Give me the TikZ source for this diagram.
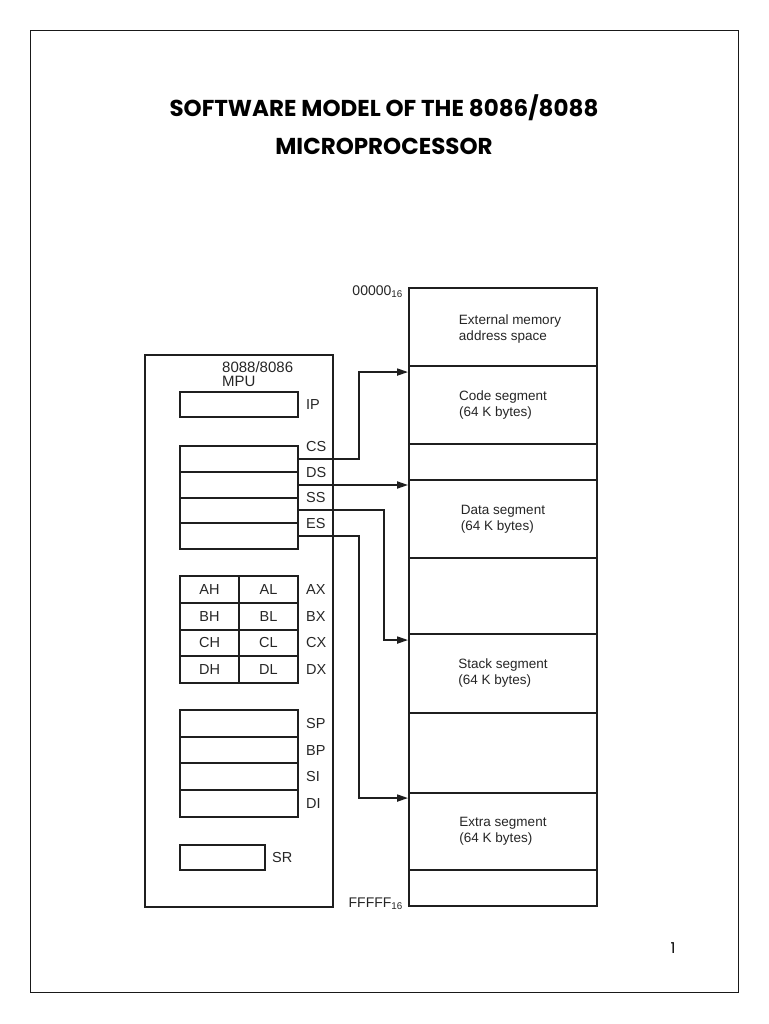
\documentclass[tikz,border=0pt]{standalone}
\usepackage{fontspec}
\setmainfont{Liberation Sans}
\newfontfamily\titlefont{Poppins}
\usetikzlibrary{arrows.meta,calc}
\begin{document}
\begin{tikzpicture}[x=1pt,y=-1pt,
  ink/.style={draw=black!88, line width=1.9pt},
  reg/.style={ink, rectangle, inner sep=0pt, minimum width=118pt},
  seg/.style={ink, rectangle, inner sep=0pt, minimum width=188pt, align=left,
    font=\fontsize{13.5}{16}\selectfont, text=black!85},
  txt/.style={inner sep=0pt, align=left, font=\fontsize{13.5}{16}\selectfont, text=black!85},
  lbl/.style={anchor=west, inner sep=0pt, font=\fontsize{14.5}{16}\selectfont, text=black!85},
  cell/.style={anchor=center, inner sep=0pt, font=\fontsize{14.5}{16}\selectfont, text=black!85},
  arr/.style={draw=black!88, line width=1.8pt, -{Triangle[length=11pt,width=7pt]}},
]
\useasboundingbox (0,0) rectangle (768,1024);
\fill[white] (0,0) rectangle (768,1024);
\draw[line width=1.1pt, black!90] (30.5,30.5) rectangle (738.5,992.5);

% title
\node[font=\titlefont\bfseries\fontsize{23}{27}\selectfont] (t1) at (384,108) {SOFTWARE MODEL OF THE 8086/8088};
\node[font=\titlefont\bfseries\fontsize{23}{27}\selectfont] (t2) at (384,146) {MICROPROCESSOR};

% MPU
\node[ink, rectangle, inner sep=0pt, minimum width=188pt, minimum height=552pt] (mpu) at (239,631) {};
\node[anchor=north west, inner sep=0pt, align=left, font=\fontsize{15}{14}\selectfont, text=black!85] (mpulbl) at (222,361) {8088/8086\\MPU};

\node[reg, minimum height=25pt] (ip) at (239,404.5) {};
\node[lbl] (iplbl) at (306,405) {IP};

\node[reg, minimum height=26pt] (cs) at (239,459) {};
\node[reg, minimum height=26pt] (ds) at (239,485) {};
\node[reg, minimum height=25pt] (ss) at (239,510.5) {};
\node[reg, minimum height=26pt] (es) at (239,536) {};
\node[lbl] (cslbl) at (306,447) {CS};
\node[lbl] (dslbl) at (306,473) {DS};
\node[lbl] (sslbl) at (306,498) {SS};
\node[lbl] (eslbl) at (306,524) {ES};

% general registers
\foreach \r/\y in {A/589.5, B/616.5, C/643, D/669.5}{
  \node[ink, rectangle, inner sep=0pt, minimum width=59pt, minimum height=26.75pt] (\r h) at (209.5,\y) {};
  \node[ink, rectangle, inner sep=0pt, minimum width=59pt, minimum height=26.75pt] (\r l) at (268.5,\y) {};
  \node[cell] (\r htxt) at (\r h.center) {\r H};
  \node[cell] (\r ltxt) at (\r l.center) {\r L};
  \node[lbl] (\r xlbl) at (306,\y) {\r X};
}

% pointer / index registers
\node[reg, minimum height=27pt] (sp) at (239,723.5) {};
\node[reg, minimum height=26pt] (bp) at (239,750) {};
\node[reg, minimum height=27pt] (si) at (239,776.5) {};
\node[reg, minimum height=27pt] (di) at (239,803.5) {};
\node[lbl] (splbl) at (306,723.4) {SP};
\node[lbl] (bplbl) at (306,750.1) {BP};
\node[lbl] (silbl) at (306,776.9) {SI};
\node[lbl] (dilbl) at (306,803.6) {DI};

\node[ink, rectangle, inner sep=0pt, minimum width=85pt, minimum height=25pt] (sr) at (222.5,857.5) {};
\node[lbl] (srlbl) at (272,857.5) {SR};

% memory
\node[seg, minimum height=78pt] (ext) at (503,327) {};
\node[txt] (exttxt) at (510,329) {External memory\\address space};
\node[seg, minimum height=78pt] (code) at (503,405) {Code segment\\(64 K bytes)};
\node[seg, minimum height=36pt] (gap1) at (503,462) {};
\node[seg, minimum height=78pt] (data) at (503,519) {Data segment\\(64 K bytes)};
\node[seg, minimum height=76pt] (gap2) at (503,596) {};
\node[seg, minimum height=79pt] (stack) at (503,673.5) {Stack segment\\(64 K bytes)};
\node[seg, minimum height=80pt] (gap3) at (503,753) {};
\node[seg, minimum height=77pt] (extra) at (503,831.5) {Extra segment\\(64 K bytes)};
\node[seg, minimum height=36pt] (gap4) at (503,888) {};

\node[anchor=east, inner sep=0pt, font=\fontsize{14}{15}\selectfont, text=black!85] (a0) at (403,292) {00000$_{\mathrm{16}}$};
\node[anchor=east, inner sep=0pt, font=\fontsize{14}{15}\selectfont, text=black!85] (a1) at (403,904) {FFFFF$_{\mathrm{16}}$};

% connectors
\coordinate (codein) at ([yshift=-7pt]code.north west);
\coordinate (datain) at (ds.east -| data.west);
\coordinate (ssout) at ([yshift=0.5pt]ss.east);
\coordinate (stackin) at ([yshift=-7pt]stack.north west);
\coordinate (extrain) at ([yshift=-6pt]extra.north west);
\draw[arr] (cs.east) -- ++(60,0) |- (codein);
\draw[arr] (ds.east) -- (datain);
\draw[arr] (ssout) -- ++(85,0) |- (stackin);
\draw[arr] (es.east) -- ++(60,0) |- (extrain);

\node[font=\titlefont\fontsize{15}{16}\selectfont] (pg) at (673,948) {1};
\end{tikzpicture}
\end{document}
